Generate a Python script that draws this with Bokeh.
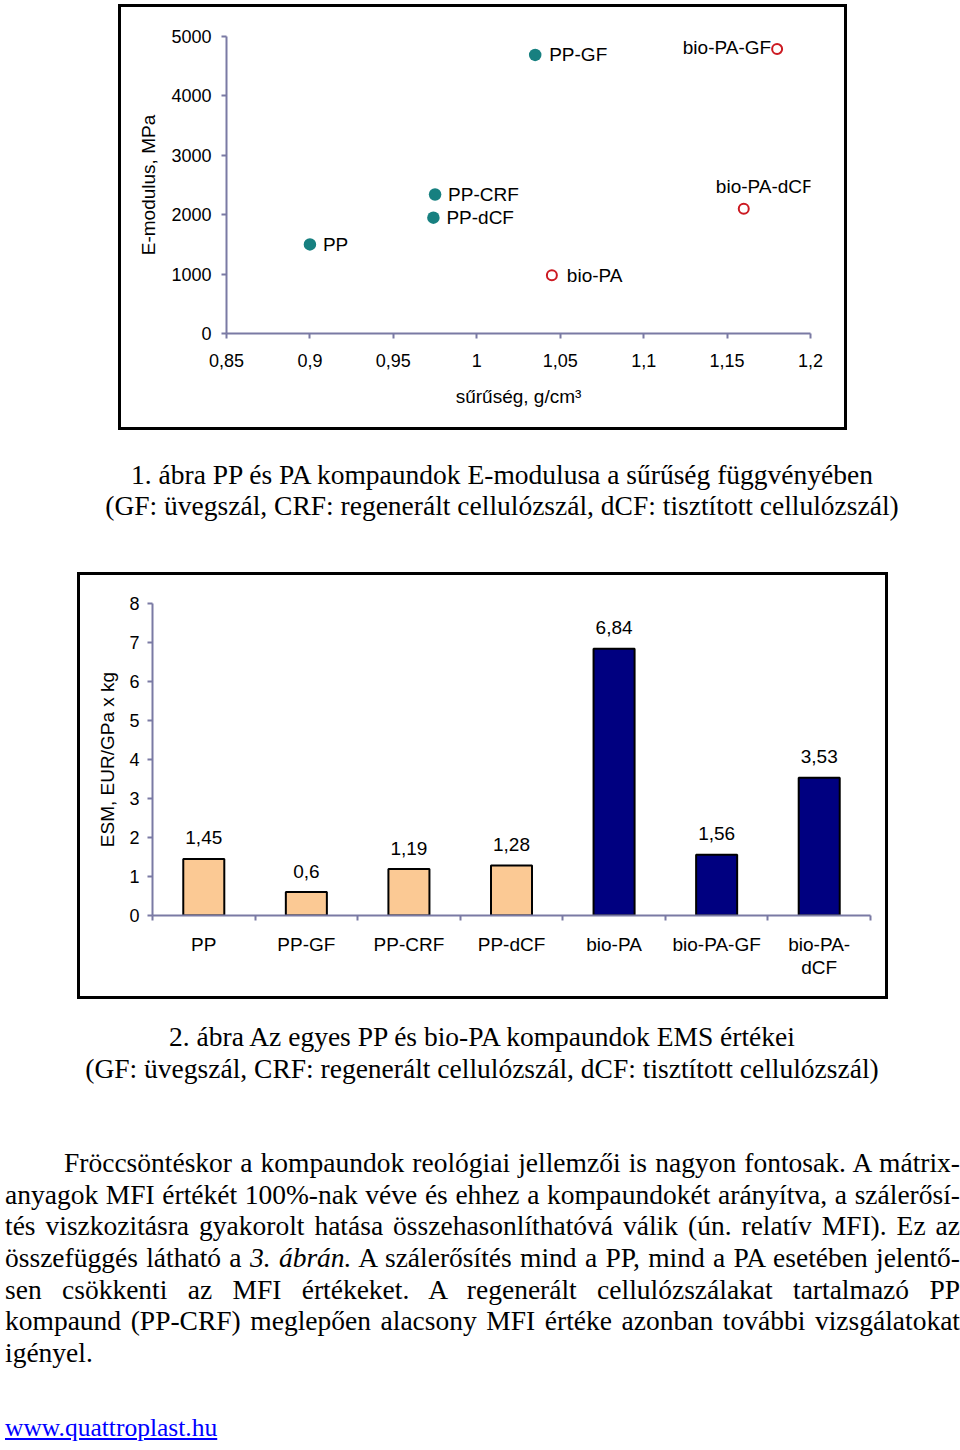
from bokeh.plotting import figure
from bokeh.models import ColumnDataSource, FixedTicker, Range1d, Div
from bokeh.layouts import column
from bokeh.embed import file_html
from bokeh.resources import INLINE
from bokeh.core.properties import value

# ---------------- data: figure 1 (E-modulus vs density) ----------------
pp_names = ["PP", "PP-CRF", "PP-dCF", "PP-GF"]
pp_density = [0.900, 0.975, 0.974, 1.035]
pp_modulus = [1500, 2340, 1950, 4690]

pa_names = ["bio-PA", "bio-PA-GF", "bio-PA-dCF"]
pa_density = [1.045, 1.180, 1.160]
pa_modulus = [980, 4790, 2100]

x_ticks = [0.85, 0.9, 0.95, 1.0, 1.05, 1.1, 1.15, 1.2]
x_tick_labels = ["0,85", "0,9", "0,95", "1", "1,05", "1,1", "1,15", "1,2"]
y_ticks = [0, 1000, 2000, 3000, 4000, 5000]

# ---------------- data: figure 2 (ESM) ----------------
esm_categories = ["PP", "PP-GF", "PP-CRF", "PP-dCF", "bio-PA", "bio-PA-GF", "bio-PA-dCF"]
esm_tick_labels = ["PP", "PP-GF", "PP-CRF", "PP-dCF", "bio-PA", "bio-PA-GF", "bio-PA-\ndCF"]
esm_values = [1.45, 0.6, 1.19, 1.28, 6.84, 1.56, 3.53]
esm_value_labels = ["1,45", "0,6", "1,19", "1,28", "6,84", "1,56", "3,53"]
esm_matrix = ["PP", "PP", "PP", "PP", "bio-PA", "bio-PA", "bio-PA"]
esm_ticks = [0, 1, 2, 3, 4, 5, 6, 7, 8]

# ---------------- styles ----------------
SANS = "Liberation Sans"
AX = "#7a7aa4"
TEAL = "#178080"
RED = "#cc1a22"
matrix_colors = {"PP": "#fbc994", "bio-PA": "#000080"}
label_place = {  # (x_offset px, y_offset px, align)
    "PP": (13, 0, "left"),
    "PP-CRF": (13, 0, "left"),
    "PP-dCF": (13, 0, "left"),
    "PP-GF": (14, 0, "left"),
    "bio-PA": (15, 0, "left"),
    "bio-PA-GF": (-6, -1, "right"),
    "bio-PA-dCF": (21, -22, "center"),
}


def style_axis(ax, tick_out=5):
    ax.axis_line_color = AX
    ax.axis_line_width = 2
    ax.major_tick_line_color = AX
    ax.major_tick_line_width = 2
    ax.major_tick_out = tick_out
    ax.major_tick_in = 0
    ax.minor_tick_line_color = None
    ax.major_label_text_font = SANS
    ax.major_label_text_font_size = "18px"
    ax.major_label_text_color = "black"
    ax.axis_label_text_font = SANS
    ax.axis_label_text_font_size = "19px"
    ax.axis_label_text_font_style = "normal"
    ax.axis_label_text_color = "black"


BOX = {"outline": "3px solid black", "outline-offset": "-3px"}

# ---------------- figure 1 ----------------
p1 = figure(width=729, height=426, x_range=Range1d(0.85, 1.2), y_range=Range1d(0, 5000),
            output_backend="svg", toolbar_location=None,
            min_border_left=108, min_border_right=37, min_border_top=32, min_border_bottom=97,
            outline_line_color=None, background_fill_color=None, border_fill_color=None)
p1.frame_align = False
p1.margin = (4, 0, 0, 118)
p1.styles = BOX
p1.grid.visible = False
p1.xaxis.ticker = FixedTicker(ticks=x_ticks)
p1.xaxis.major_label_overrides = dict(zip(x_ticks, x_tick_labels))
p1.yaxis.ticker = FixedTicker(ticks=y_ticks)
p1.xaxis.axis_label = "sűrűség, g/cm³"
p1.yaxis.axis_label = "E-modulus, MPa"
style_axis(p1.xaxis[0])
style_axis(p1.yaxis[0])
p1.xaxis.major_label_standoff = 15
p1.xaxis.axis_label_standoff = 16
p1.yaxis.major_label_standoff = 10
p1.yaxis.axis_label_standoff = 9


def label_cols(names):
    return dict(dx=[label_place[n][0] for n in names],
                dy=[label_place[n][1] for n in names],
                al=[label_place[n][2] for n in names])


src_pp = ColumnDataSource(dict(x=pp_density, y=pp_modulus, name=pp_names, **label_cols(pp_names)))
src_pa = ColumnDataSource(dict(x=pa_density, y=pa_modulus, name=pa_names, **label_cols(pa_names)))

p1.scatter("x", "y", source=src_pp, size=12.5, fill_color=TEAL, line_color=None)
p1.scatter("x", "y", source=src_pa, size=10, fill_color=None, line_color=RED, line_width=2)
for src in (src_pp, src_pa):
    p1.text("x", "y", text="name", source=src, x_offset="dx", y_offset="dy", text_align="al",
            text_baseline="middle", text_font=value(SANS), text_font_size="19px", text_color="black")

# ---------------- figure 2 ----------------
n = len(esm_categories)
centers = [i + 0.5 for i in range(n)]
p2 = figure(width=811, height=427, x_range=Range1d(0, n), y_range=Range1d(0, 8),
            output_backend="svg", toolbar_location=None,
            min_border_left=75, min_border_right=18, min_border_top=31, min_border_bottom=84,
            outline_line_color=None, background_fill_color=None, border_fill_color=None)
p2.frame_align = False
p2.margin = (0, 0, 0, 77)
p2.styles = BOX
p2.grid.visible = False
src_bar = ColumnDataSource(dict(x=centers, top=esm_values, lab=esm_value_labels,
                                color=[matrix_colors[m] for m in esm_matrix]))
p2.vbar(x="x", top="top", width=0.4, source=src_bar, fill_color="color",
        line_color="black", line_width=2)
p2.text("x", "top", text="lab", source=src_bar, y_offset=-21, text_align="center",
        text_baseline="alphabetic", text_font=value(SANS), text_font_size="19px", text_color="black")
p2.yaxis.ticker = FixedTicker(ticks=esm_ticks)
p2.yaxis.axis_label = "ESM, EUR/GPa x kg"
style_axis(p2.xaxis[0])
style_axis(p2.yaxis[0])
p2.xaxis.ticker = FixedTicker(ticks=centers, minor_ticks=list(range(n + 1)))
p2.xaxis.major_label_overrides = dict(zip(centers, esm_tick_labels))
p2.xaxis.major_label_text_font_size = "19px"
p2.xaxis.major_label_text_line_height = 1.1
p2.xaxis.major_tick_line_color = None
p2.xaxis.major_tick_out = 0
p2.xaxis.minor_tick_line_color = AX
p2.xaxis.minor_tick_line_width = 2
p2.xaxis.minor_tick_out = 5
p2.xaxis.minor_tick_in = 0
p2.xaxis.major_label_standoff = 13
p2.yaxis.major_label_standoff = 8
p2.yaxis.axis_label_standoff = 8

# ---------------- text blocks ----------------
SERIF = "font-family:'Liberation Serif';font-size:27.5px;color:#000;"

cap1_lines = ["1. ábra PP és PA kompaundok E-modulusa a sűrűség függvényében",
              "(GF: üvegszál, CRF: regenerált cellulózszál, dCF: tisztított cellulózszál)"]
cap2_lines = ["2. ábra Az egyes PP és bio-PA kompaundok EMS értékei",
              "(GF: üvegszál, CRF: regenerált cellulózszál, dCF: tisztított cellulózszál)"]
para_lines = [
    "Fröccsöntéskor a kompaundok reológiai jellemzői is nagyon fontosak. A mátrix-",
    "anyagok MFI értékét 100%-nak véve és ehhez a kompaundokét arányítva, a szálerősí-",
    "tés viszkozitásra gyakorolt hatása összehasonlíthatóvá válik (ún. relatív MFI). Ez az",
    "összefüggés látható a <i>3. ábrán.</i> A szálerősítés mind a PP, mind a PA esetében jelentő-",
    "sen csökkenti az MFI értékeket. A regenerált cellulózszálakat tartalmazó PP",
    "kompaund (PP-CRF) meglepően alacsony MFI értéke azonban további vizsgálatokat",
    "igényel.",
]
link_text = "www.quattroplast.hu"

cap1_html = (f'<div style="position:relative;width:960px;height:142px;{SERIF}">'
             f'<div style="position:absolute;left:44px;right:0;top:28.5px;line-height:31px;'
             f'text-align:center;white-space:nowrap;">' + "<br>".join(cap1_lines) + '</div></div>')
cap1 = Div(text=cap1_html, width=960, height=142, margin=(0, 0, 0, 0))

para_html = ""
for i, line in enumerate(para_lines):
    last = i == len(para_lines) - 1
    pad = "padding-left:59px;" if i == 0 else ""
    al = "left" if last else "justify"
    para_html += (f'<div style="height:31.7px;line-height:31.7px;{pad}'
                  f'text-align:{al};text-align-last:{al};">{line}</div>')

rest_html = (f'<div style="position:relative;width:960px;height:439px;{SERIF}">'
             f'<div style="position:absolute;left:4px;right:0;top:22px;line-height:32px;'
             f'text-align:center;white-space:nowrap;">' + "<br>".join(cap2_lines) + '</div>'
             f'<div style="position:absolute;left:5px;width:955px;top:148px;">{para_html}</div>'
             f'<div style="position:absolute;left:5px;top:419px;line-height:20px;color:#0000ff;'
             f'font-size:25.5px;text-decoration:underline;">{link_text}</div>'
             '</div>')
rest = Div(text=rest_html, width=960, height=439, margin=(0, 0, 0, 0))

layout = column(p1, cap1, p2, rest, spacing=0)

open("out.html", "w").write(file_html(layout, INLINE))
